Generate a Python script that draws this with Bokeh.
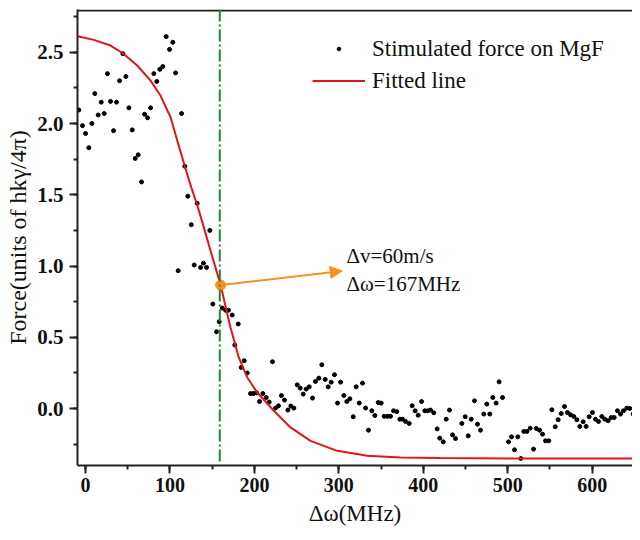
from bokeh.plotting import figure
from bokeh.models import (Range1d, SingleIntervalTicker, Legend, LegendItem,
                          Span, Arrow, NormalHead, Label, CustomJSTickFormatter)
from bokeh.embed import file_html
from bokeh.resources import INLINE

# ---------------- data ----------------
force_x = [-7.9, -3.6, 0, 3.9, 7.5, 11, 15, 18.6, 22.1, 26, 29.6, 33.2, 36.7, 40.3, 44.2, 47.8,
           51.3, 55.3, 58.8, 62.4, 66.3, 69.9, 73.4, 77, 80.9, 84.4, 88, 91.5, 95.5, 99.5, 103.4,
           106.6, 109.7, 113.7, 117.6, 121.1, 125.2, 128.7, 132.2, 136.2, 139.7, 143.3, 147.2,
           150.7, 155.1, 158.3, 161.9, 165.8, 169.3, 173.7, 176.8, 180.8, 184.4, 187.9, 191.5,
           195.4, 198.9, 202.5, 206, 210, 214, 217.5, 221.4, 225, 228.5, 232, 235.6, 239.6, 243.1,
           246.7, 250.7, 254.2, 257.8, 261.3, 264.9, 268.8, 272.3, 276.3, 279.8, 283.8, 287.4,
           290.9, 294.8, 298.4, 302, 305.9, 309.4, 313, 317, 320.5, 324.1, 328, 331.6, 335.1, 339,
           342.6, 346.6, 350.1, 353.7, 357.6, 361.2, 364.7, 368.6, 372.2, 375.4, 378.9, 383.3,
           386.8, 390.3, 393.9, 397.9, 401.8, 405.3, 408.5, 412.4, 416.4, 419.5, 423.6, 427.1,
           431, 434.6, 438.1, 445.6, 449.6, 453.2, 456.7, 460.6, 464.2, 467.7, 471.6, 475.2,
           478.7, 482.3, 486.2, 489.8, 493.8, 500.9, 504.4, 508, 511.9, 515.5, 519, 522.6, 526.6,
           530.5, 533.7, 537.6, 541.2, 544.7, 548.6, 552.2, 556.2, 559.7, 563.3, 567.2, 570.7,
           574.3, 578.2, 581.8, 585.3, 589.3, 592.8, 596.4, 600.3, 603.9, 607.5, 611.4, 614.9,
           618.9, 622.5, 626, 629.9, 633.5, 637, 641, 644.5, 648.5, 652.1, 655.6]
force_y = [2.095, 1.985, 1.93, 1.83, 2.00, 2.21, 2.06, 2.15, 2.07, 2.35, 2.155, 1.95, 2.15, 2.30,
           2.49, 2.33, 2.11, 1.955, 1.755, 1.78, 1.59, 2.065, 2.04, 2.11, 2.35, 2.295, 2.38, 2.40,
           2.61, 2.52, 2.57, 2.355, 0.967, 2.07, 1.70, 1.49, 1.29, 1.007, 1.44, 0.99, 1.02, 0.99,
           1.25,
           0.733, 0.539, 0.609, 0.705, 0.69, 0.69, 0.656, 0.445, 0.593, 0.288, 0.335, 0.249,
           0.105, 0.105, 0.11, 0.049, 0.105, 0.077, 0.045, 0.328, 0.003, 0.019, 0.091, 0.059,
           -0.011, 0.017, 0.003, 0.166, 0.143, 0.101, 0.136, 0.152, 0.073, 0.19, 0.213, 0.307,
           0.204, 0.152, 0.185, 0.237, 0.038, 0.185, 0.091, 0.049, 0.068, -0.058, 0.152, 0.038,
           0.178, 0.003, -0.152, -0.016, -0.049, 0.042, 0.038, -0.055, -0.055, -0.055, -0.016,
           -0.022, -0.075, -0.075, -0.091, -0.105, 0.019, -0.016, -0.047, 0.049, -0.016, -0.016,
           -0.011, -0.03, -0.143, -0.208, -0.234, -0.075, -0.011, -0.185, -0.211, -0.105, -0.058,
           -0.192, -0.075, 0.054, -0.11, -0.152, -0.039, 0.031, -0.039, 0.077, 0.038, 0.187,
           0.077, -0.234, -0.199, -0.29, -0.199, -0.351, -0.161, -0.161, -0.138, -0.285, -0.14,
           -0.152, -0.18, -0.227, -0.227, -0.009, -0.128, -0.079, -0.035, 0.014, -0.028, -0.044,
           -0.056, -0.079, -0.126, -0.093, -0.126, -0.058, -0.028, -0.075, -0.091, -0.056, -0.075,
           -0.086, -0.063, -0.063, -0.016, -0.039, -0.016, 0.003, 0.0, -0.039, -0.039, -0.075]

fit_x = [-10, -7.9, 9.8, 29.6, 44.2, 61.2, 77, 88.8, 100.7, 108.6, 117.6, 125.2, 132.2, 140.1,
         148, 155.9, 160, 167, 171.7, 181.5, 191.5, 203.3, 223, 242.7, 266.4, 298, 333.6, 373,
         420, 500, 600, 657]
fit_y = [2.612, 2.61, 2.587, 2.547, 2.493, 2.407, 2.301, 2.196, 2.044, 1.88, 1.70, 1.552, 1.43,
         1.271, 1.107, 0.95, 0.867, 0.686, 0.569, 0.358, 0.218, 0.112, -0.016, -0.133, -0.227,
         -0.297, -0.332, -0.344, -0.348, -0.35, -0.35, -0.35]

marker_x = [160]
marker_y = [0.866]
vline_x = 159
arrow_from = (160, 0.866)
arrow_to = (304, 0.965)
note_x = 309
note_lines = ["Δv=60m/s", "Δω=167MHz"]
note_y = [1.072, 0.872]

legend_labels = ["Stimulated force on MgF", "Fitted line"]
x_label = "Δω(MHz)"
y_label = "Force(units of hkγ/4π)"
x_min, x_max = -9.5, 647.7
y_min, y_max = -0.4, 2.8

# ---------------- styling ----------------
SERIF = "Liberation Serif"
RED = "#e3141b"
ORANGE = "#f7901e"
GREEN = "#1b8a2e"
AX = "#222222"

p = figure(width=632, height=532, output_backend="svg", toolbar_location=None,
           x_range=Range1d(x_min, x_max), y_range=Range1d(y_min, y_max),
           min_border_left=77, min_border_right=0, min_border_top=9, min_border_bottom=67,
           x_axis_label=x_label, y_axis_label=y_label)
p.outline_line_color = None
p.grid.visible = False
p.background_fill_color = "white"
p.border_fill_color = "white"

p.xaxis.ticker = SingleIntervalTicker(interval=100, num_minor_ticks=2)
p.yaxis.ticker = SingleIntervalTicker(interval=0.5, num_minor_ticks=2)
p.yaxis.formatter = CustomJSTickFormatter(code="return tick.toFixed(1);")

for ax in (p.xaxis[0], p.yaxis[0]):
    ax.axis_line_width = 2
    ax.axis_line_color = AX
    ax.major_tick_line_width = 2
    ax.minor_tick_line_width = 2
    ax.major_tick_line_color = AX
    ax.minor_tick_line_color = AX
    ax.major_tick_in = 0
    ax.major_tick_out = 8
    ax.minor_tick_in = 0
    ax.minor_tick_out = 4
    ax.major_label_text_font = SERIF
    ax.major_label_text_font_style = "bold"
    ax.major_label_text_color = "#111111"
    ax.axis_label_text_font = SERIF
    ax.axis_label_text_font_style = "normal"
    ax.axis_label_text_color = "#111111"

p.xaxis.major_label_text_font_size = "20px"
p.xaxis.major_label_standoff = 4
p.xaxis.axis_label_standoff = 6
p.xaxis.axis_label_text_font_size = "23px"
p.yaxis.major_label_text_font_size = "21px"
p.yaxis.major_label_standoff = 6
p.yaxis.axis_label_standoff = 3
p.yaxis.axis_label_text_font_size = "24px"

# top frame line, kept just inside the frame so it is not clipped
p.add_layout(Span(location=y_max - 0.007, dimension="width", line_color=AX, line_width=2))

p.add_layout(Span(location=vline_x, dimension="height", line_color=GREEN,
                  line_width=2, line_dash="12 3 2 3"))

pts = p.scatter(force_x, force_y, size=4, color="black", marker="circle")
fit = p.line(fit_x, fit_y, line_color=RED, line_width=2)

p.add_layout(Arrow(end=NormalHead(size=12, fill_color=ORANGE, line_color=ORANGE),
                   x_start=arrow_from[0], y_start=arrow_from[1],
                   x_end=arrow_to[0], y_end=arrow_to[1],
                   line_color=ORANGE, line_width=2))
p.scatter(marker_x, marker_y, size=10, color=ORANGE)

for t, yy in zip(note_lines, note_y):
    p.add_layout(Label(x=note_x, y=yy, text=t, text_baseline="middle", text_align="left",
                       text_font=SERIF, text_font_size="21px", text_color="#111111"))

legend = Legend(items=[LegendItem(label=legend_labels[0], renderers=[pts]),
                       LegendItem(label=legend_labels[1], renderers=[fit])],
                location=(235, 371), orientation="vertical")
legend.border_line_color = None
legend.background_fill_alpha = 0
legend.padding = 0
legend.margin = 0
legend.glyph_width = 53
legend.glyph_height = 9
legend.label_height = 27
legend.label_standoff = 7
legend.spacing = 5
legend.label_text_font = SERIF
legend.label_text_font_size = "23px"
legend.label_text_color = "#111111"
p.add_layout(legend, "center")

open("out.html", "w").write(file_html(p, INLINE))
